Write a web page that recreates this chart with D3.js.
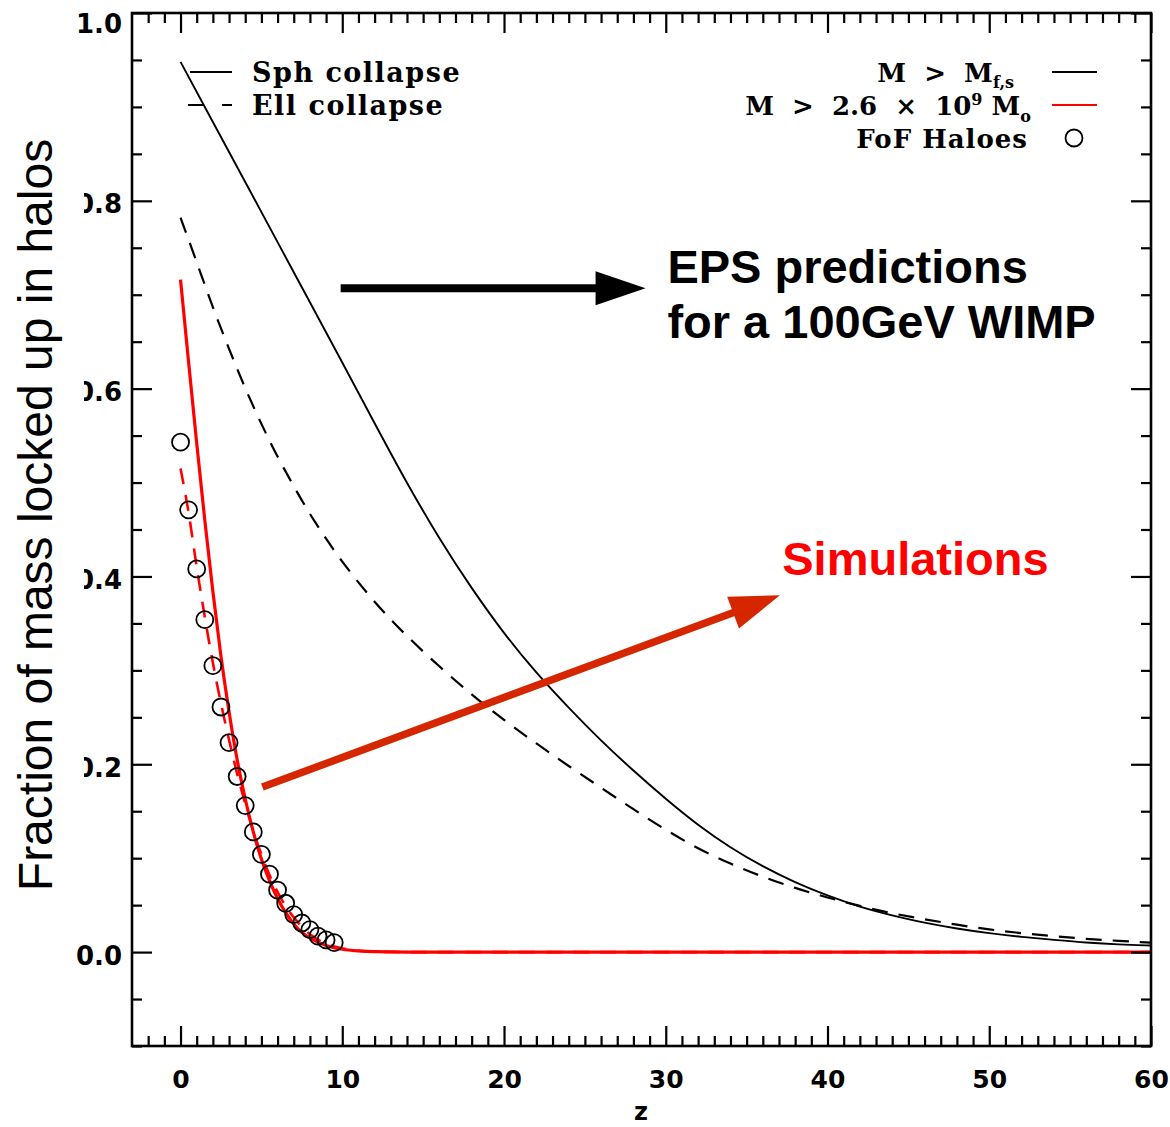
<!DOCTYPE html>
<html><head><meta charset="utf-8">
<script src="https://cdn.jsdelivr.net/npm/d3@7"></script>
<style>body{margin:0;background:#fff} svg{display:block}</style>
</head><body>
<svg id="c" width="1170" height="1127"></svg>
<script>
// ---- data ----
const sphZ = [0,2,4,6,8,10,12,14,16,18,20,22,24,26,28,30,32,34,36,38,40,42,44,46,48,50,52,54,56,58,60];
const sphF = [0.948,0.884,0.820,0.756,0.692,0.628,0.563,0.499,0.440,0.387,0.339,0.297,0.260,0.225,0.193,0.163,0.135,0.111,0.091,0.074,0.060,0.048,0.039,0.031,0.025,0.020,0.016,0.013,0.010,0.008,0.007];

const ellZ = [0,1,2,3,4,5,6,7,8,9,10,12,14,16,18,20,22,24,26,28,30,32,34,36,38,40,42,44,46,48,50,52,54,56,58,60];
const ellF = [0.782,0.735,0.686,0.642,0.600,0.562,0.527,0.496,0.466,0.440,0.415,0.372,0.336,0.304,0.274,0.247,0.222,0.198,0.175,0.152,0.130,0.110,0.094,0.080,0.068,0.058,0.049,0.041,0.035,0.029,0.024,0.020,0.017,0.014,0.012,0.010];

const redSolidZ = [0,0.5,1,1.5,2,2.5,3,3.5,4,4.5,5,5.5,6,6.5,7,7.5,8,9,10,11,12,14,20,30,40,50,60];
const redSolidF = [0.716,0.628,0.542,0.460,0.384,0.315,0.256,0.205,0.163,0.128,0.099,0.076,0.057,0.042,0.030,0.021,0.015,0.007,0.003,0.0012,0.0004,0,0,0,0,0,0];

const redDashZ = [0,0.5,1,1.5,2,2.5,3,3.5,4,4.5,5,5.5,6,6.5,7,7.5,8,9,10,11,12,14,20,30,40,50,60];
const redDashF = [0.515,0.468,0.410,0.357,0.308,0.265,0.226,0.190,0.158,0.129,0.104,0.082,0.064,0.049,0.037,0.027,0.019,0.009,0.004,0.0015,0.0005,0,0,0,0,0,0];

const fofZ = [0,0.5,1,1.5,2,2.5,3,3.5,4,4.5,5,5.5,6,6.5,7,7.5,8,8.5,9,9.5];
const fofF = [0.543,0.471,0.408,0.354,0.305,0.261,0.223,0.187,0.156,0.128,0.104,0.083,0.066,0.052,0.040,0.031,0.024,0.017,0.013,0.010];

const xMajorTicks = [0,10,20,30,40,50,60];
const yMajorTicks = [0,0.2,0.4,0.6,0.8,1.0];
const yTitle = "Fraction of mass locked up in halos";
const xTitle = "z";

// annotations (data coordinates)
const blackArrow = {from:[9.9,0.707], to:[28.75,0.707]};
const redArrow = {from:[5.06,0.1757], to:[37.06,0.380]};
const epsLines = ["EPS predictions","for a 100GeV WIMP"];
const epsPos = [[30.1,0.7126],[30.1,0.654]];
const simText = "Simulations";
const simPos = [37.2,0.4016];

// ---- scales ----
const W=1170,H=1127;
const L=132,R=1151,T=13,B=1046;
const x=d3.scaleLinear().domain([-3,60]).range([L,R]);
const y=d3.scaleLinear().domain([-0.1,1.0]).range([B,T]);
const svg=d3.select("#c");
svg.append("rect").attr("width",W).attr("height",H).attr("fill","#fff");

svg.append("clipPath").attr("id","clip").append("rect")
  .attr("x",L).attr("y",T).attr("width",R-L).attr("height",B-T);
const plot=svg.append("g").attr("clip-path","url(#clip)");
const smooth=d3.line().x(d=>x(d[0])).y(d=>y(d[1])).curve(d3.curveBasis);
const line=d3.line().x(d=>x(d[0])).y(d=>y(d[1])).curve(d3.curveMonotoneX);
const zip=(a,b)=>a.map((v,i)=>[v,b[i]]);

plot.append("path").attr("d",smooth(zip(ellZ,ellF))).attr("fill","none")
  .attr("stroke","#000").attr("stroke-width",2.2).attr("stroke-dasharray","16,11");
plot.append("path").attr("d",smooth(zip(sphZ,sphF))).attr("fill","none")
  .attr("stroke","#000").attr("stroke-width",1.9);
plot.append("path").attr("d",line(zip(redDashZ,redDashF))).attr("fill","none")
  .attr("stroke","#ff0000").attr("stroke-width",2.6).attr("stroke-dasharray","16,11");
plot.append("path").attr("d",line(zip(redSolidZ,redSolidF))).attr("fill","none")
  .attr("stroke","#ff0000").attr("stroke-width",3.2);
plot.selectAll("circle.fof").data(zip(fofZ,fofF)).join("circle").attr("class","fof")
  .attr("cx",d=>x(d[0])).attr("cy",d=>y(d[1])).attr("r",8.5)
  .attr("fill","none").attr("stroke","#000").attr("stroke-width",1.8);

// ---- axes ----
const xMinor=d3.range(-2,60).filter(v=>v%10!==0);
const yMinor=d3.range(-2,20).map(v=>+(v*0.05).toFixed(2)).filter(v=>Math.round(v*100)%20!==0);
const tickFont="'DejaVu Sans', sans-serif";
function styleAxis(g){
  g.select(".domain").remove();
  g.selectAll(".tick line").attr("stroke","#000").attr("stroke-width",2.2);
}
svg.append("g").attr("transform",`translate(0,${B})`)
  .call(d3.axisBottom(x).tickValues(xMajorTicks).tickSize(-20).tickPadding(24).tickFormat(d3.format("d")))
  .call(styleAxis)
  .call(g=>g.selectAll("text").attr("font-family",tickFont).attr("font-weight","bold").attr("font-size",25).attr("fill","#000"));
svg.append("g").attr("transform",`translate(0,${B})`)
  .call(d3.axisBottom(x).tickValues(xMinor).tickSize(-10).tickFormat("")).call(styleAxis);
svg.append("g").attr("transform",`translate(0,${T})`)
  .call(d3.axisTop(x).tickValues(xMajorTicks).tickSize(-20).tickFormat("")).call(styleAxis);
svg.append("g").attr("transform",`translate(0,${T})`)
  .call(d3.axisTop(x).tickValues(xMinor).tickSize(-10).tickFormat("")).call(styleAxis);

svg.append("g").attr("transform",`translate(${L},0)`)
  .call(d3.axisLeft(y).tickValues(yMajorTicks).tickSize(-20).tickPadding(10).tickFormat(d3.format(".1f")))
  .call(styleAxis)
  .call(g=>g.selectAll("text").attr("font-family",tickFont).attr("font-weight","bold").attr("font-size",26).attr("fill","#000")
     .attr("dy",d=>d===1?"0.75em":"0.46em"));
svg.append("g").attr("transform",`translate(${L},0)`)
  .call(d3.axisLeft(y).tickValues(yMinor).tickSize(-10).tickFormat("")).call(styleAxis);
svg.append("g").attr("transform",`translate(${R},0)`)
  .call(d3.axisRight(y).tickValues(yMajorTicks).tickSize(-20).tickFormat("")).call(styleAxis);
svg.append("g").attr("transform",`translate(${R},0)`)
  .call(d3.axisRight(y).tickValues(yMinor).tickSize(-10).tickFormat("")).call(styleAxis);

svg.append("rect").attr("x",L).attr("y",T).attr("width",R-L).attr("height",B-T)
  .attr("fill","none").attr("stroke","#000").attr("stroke-width",2.6);

// x title
svg.append("text").attr("x",641).attr("y",1120).attr("text-anchor","middle")
  .attr("font-family",tickFont).attr("font-weight","bold").attr("font-size",24).text(xTitle);

// y title with white box
svg.append("rect").attr("x",0).attr("y",130).attr("width",84).attr("height",772).attr("fill","#fff");
svg.append("text").attr("transform","translate(52,515) rotate(-90)").attr("text-anchor","middle")
  .attr("font-family","'Liberation Sans', Arial, sans-serif").attr("font-size",48).attr("fill","#000").text(yTitle);

// ---- legends ----
const legFont="'DejaVu Serif', serif";
const lg=svg.append("g").attr("font-family",legFont).attr("font-weight","bold").attr("font-size",27).attr("fill","#000");
lg.append("line").attr("x1",190).attr("x2",232).attr("y1",72).attr("y2",72).attr("stroke","#000").attr("stroke-width",2);
lg.append("line").attr("x1",188).attr("x2",232).attr("y1",105).attr("y2",105).attr("stroke","#000").attr("stroke-width",2).attr("stroke-dasharray","16,18");
lg.append("text").attr("x",252).attr("y",82).attr("letter-spacing",1.5).text("Sph collapse");
lg.append("text").attr("x",252).attr("y",115).attr("letter-spacing",1.5).text("Ell collapse");

const rg=svg.append("g").attr("font-family",legFont).attr("font-weight","bold").attr("font-size",26).attr("fill","#000");
rg.append("line").attr("x1",1052).attr("x2",1097).attr("y1",72).attr("y2",72).attr("stroke","#000").attr("stroke-width",2);
rg.append("line").attr("x1",1052).attr("x2",1097).attr("y1",105).attr("y2",105).attr("stroke","#ff0000").attr("stroke-width",2);
rg.append("circle").attr("cx",1074).attr("cy",138).attr("r",8.5).attr("fill","none").attr("stroke","#000").attr("stroke-width",1.8);
const t1=rg.append("text").attr("x",1014).attr("y",82).attr("text-anchor","end").style("white-space","pre");
t1.append("tspan").text("M  >  M");
t1.append("tspan").attr("font-size",16).attr("dy",6).text("f,s");
const t2=rg.append("text").attr("x",1031).attr("y",115).attr("text-anchor","end").style("white-space","pre");
t2.append("tspan").text("M  >  2.6  ×  10");
t2.append("tspan").attr("font-size",16).attr("dy",-10).text("9");
t2.append("tspan").attr("dy",10).text(" M");
t2.append("tspan").attr("font-size",16).attr("dy",7).text("o");
rg.append("text").attr("x",1028).attr("y",148).attr("text-anchor","end").attr("letter-spacing",1).style("white-space","pre").text("FoF Haloes");

// ---- annotations ----
function arrow(a,color,w,headLen,headHalf){
  const p0=[x(a.from[0]),y(a.from[1])], p1=[x(a.to[0]),y(a.to[1])];
  const dx=p1[0]-p0[0], dy=p1[1]-p0[1], len=Math.hypot(dx,dy);
  const ux=dx/len, uy=dy/len, bx=p1[0]-ux*headLen, by=p1[1]-uy*headLen;
  svg.append("line").attr("x1",p0[0]).attr("y1",p0[1]).attr("x2",bx+ux*2).attr("y2",by+uy*2)
    .attr("stroke",color).attr("stroke-width",w);
  svg.append("polygon").attr("points",[[p1[0],p1[1]],[bx-uy*headHalf,by+ux*headHalf],[bx+uy*headHalf,by-ux*headHalf]].map(p=>p.join(",")).join(" "))
    .attr("fill",color);
}
arrow(blackArrow,"#000",8,50,17);
arrow(redArrow,"#d62600",7.5,50,17);

const annFont="'Liberation Sans', Arial, sans-serif";
epsLines.forEach((t,i)=>{
  svg.append("text").attr("x",x(epsPos[i][0])).attr("y",y(epsPos[i][1]))
    .attr("font-family",annFont).attr("font-weight","bold").attr("font-size",47).attr("fill","#000").text(t);
});
svg.append("text").attr("x",x(simPos[0])).attr("y",y(simPos[1]))
  .attr("font-family",annFont).attr("font-weight","bold").attr("font-size",47).attr("fill","#ff0000").text(simText);
</script>
</body></html>
